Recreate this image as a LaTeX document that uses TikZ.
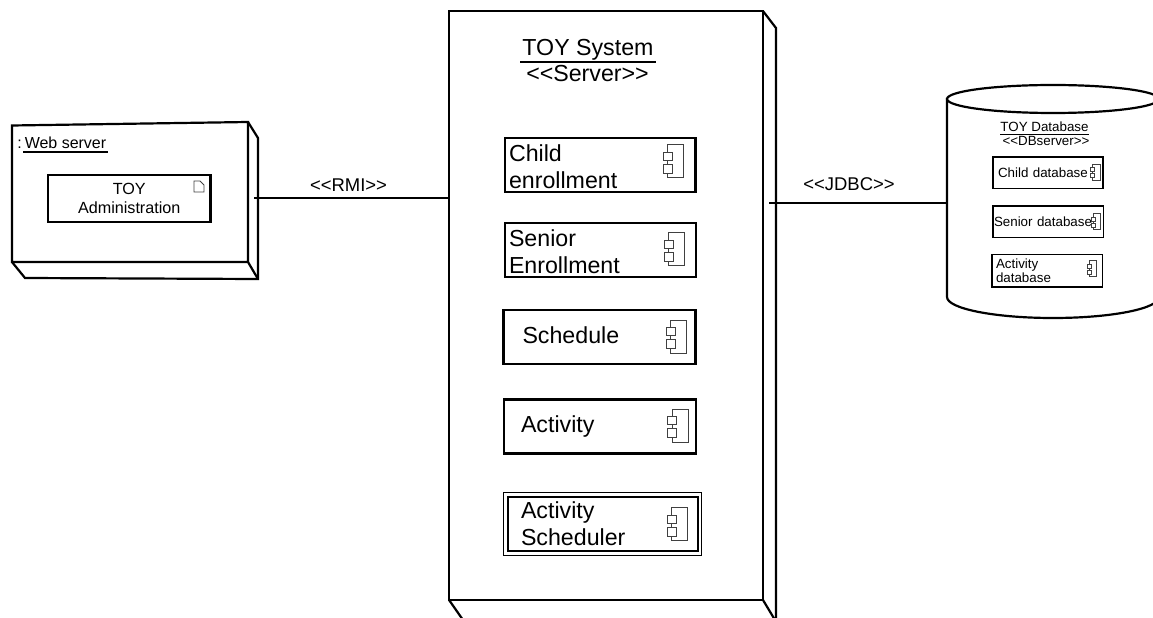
\documentclass[tikz,border=0pt]{standalone}
\usepackage{fontspec}
\setmainfont{Liberation Sans}
\usetikzlibrary{positioning,calc}

\begin{document}
\begin{tikzpicture}[
    x=0.02cm, y=-0.02cm,
    shell/.style={line width=1.25pt, line join=miter},
    box/.style={rectangle, draw, line width=1.25pt, inner ysep=0pt, outer sep=0pt, align=left},
    compbox/.style={box, inner xsep=0.08cm, minimum height=1.08cm, font=\fontsize{13.2}{15.3}\selectfont},
    dbbox/.style={box, line width=1pt, inner xsep=0.1cm, text width=2cm, minimum height=0.63cm, font=\fontsize{7.6}{8.2}\selectfont},
    title/.style={anchor=base, inner xsep=1pt, inner ysep=0.05cm, font=\fontsize{13.2}{15}\selectfont},
    tag/.style={anchor=base, inner sep=0pt, font=\fontsize{10.5}{12}\selectfont},
    link/.style={line width=1.25pt},
    compicon/.pic={
        \draw[line width=0.45pt, black!75] (-8,-16.5) rectangle (8,16.5);
        \draw[line width=0.45pt, black!75, fill=white] (-12.5,-9) rectangle (-3.5,-1);
        \draw[line width=0.45pt, black!75, fill=white] (-12.5,3) rectangle (-3.5,12);
    }
]
    \useasboundingbox (0,0) rectangle (1153,618);

    % Web server node
    \draw[shell] (12,125.5) -- (248,122) -- (248,262) -- (12,262) -- cycle;
    \draw[shell] (248,122) -- (258,138) -- (258,279) -- (25,278) -- (12,262);
    \draw[shell] (248,262) -- (258,279);
    \coordinate (webport) at (254,198);
    \node[title, inner xsep=0.02cm, font=\fontsize{9.1}{12}\selectfont] (webtitle) at (65.5,149) {Web server};
    \draw[line width=0.8pt] (webtitle.south west) -- (webtitle.south east);
    \node[tag, font=\fontsize{9.1}{12}\selectfont] (webcolon) at (19.5,149) {:};
    \node[box, anchor=north west, minimum width=3.25cm, minimum height=0.94cm, align=center, font=\fontsize{9.2}{10.8}\selectfont] (admin) at (48,175) {TOY\\Administration};
    \draw[line width=0.45pt, black!75] (194,181) -- (200,181) -- (204,185) -- (204,192) -- (194,192) -- cycle;

    % Server node
    \node[rectangle, draw, shell, inner sep=0pt, outer sep=0pt, anchor=north west, minimum width=6.28cm, minimum height=11.78cm] (system) at (449,11) {};
    \draw[shell] (system.north east) -- (776,28) -- (776,620);
    \draw[shell] (system.south east) -- (775,620);
    \draw[shell] (system.south west) -- (463,620);
    \coordinate (sysport) at (769,203);
    \node[title, inner ysep=0.02cm] (systitle) at (588,56) {TOY System};
    \draw[line width=1.25pt] (systitle.south west) -- (systitle.south east);
    \node[tag, font=\fontsize{13.2}{15}\selectfont] (sysstereo) at (587.5,81.7) {<{}<Server>{}>};

    % Components of the server
    \node[compbox, anchor=north west, text width=3.65cm, text height=12pt] (child) at (505,138) {Child\\enrollment};
    \node[compbox, anchor=north west, text width=3.66cm, text height=11.5pt] (senior) at (505,223) {Senior\\Enrollment};
    \node[compbox, anchor=north west, inner xsep=0.38cm, text width=3.08cm, text depth=2pt] (schedule) at (503.5,310) {Schedule};
    \node[compbox, anchor=north west, inner xsep=0.34cm, text width=3.16cm] (activity) at (504,399.5) {Activity};
    \node[compbox, anchor=north west, inner xsep=0.266cm, text width=3.274cm] (scheduler) at (507.7,496.7) {Activity\\Scheduler};
    \draw[line width=0.7pt] ($(scheduler.north west)+(-4,-4)$) rectangle ($(scheduler.south east)+(3.5,5)$);
    \pic at (675.5,161) {compicon};
    \pic at (676.5,249) {compicon};
    \pic at (678.5,336.5) {compicon};
    \pic at (680,425.5) {compicon};
    \pic at (679.5,524) {compicon};

    % Database node
    \draw[shell] (947,98) -- (947,297) arc[start angle=180, end angle=0, x radius=106, y radius=21] -- (1159,98);
    \draw[shell] (1053,99) ellipse[x radius=106, y radius=14];
    \coordinate (dbport) at (947,203);
    \node[title, inner xsep=0pt, font=\fontsize{7.6}{9}\selectfont] (dbtitle) at (1044.5,131.5) {TOY Database};
    \draw[line width=0.7pt] (dbtitle.south west) -- (dbtitle.south east);
    \node[tag, font=\fontsize{7.6}{9}\selectfont] (dbstereo) at (1046,146) {<{}<DBserver>{}>};

    % Components of the database
    \node[dbbox, anchor=north west] (childdb) at (993,157) {Child database};
    \node[dbbox, anchor=north west, inner xsep=0.02cm, text width=2.17cm] (seniordb) at (993,206) {Senior database};
    \node[dbbox, anchor=north west, inner xsep=0.08cm, text width=2.05cm, minimum height=0.65cm] (activitydb) at (992,254.5) {Activity\\database};
    \pic[scale=0.48] at (1096.5,172) {compicon};
    \pic[scale=0.48] at (1097,221.5) {compicon};
    \pic[scale=0.48] at (1093,268.5) {compicon};

    % Connectors
    \draw[link] (webport) -- (webport -| system.west);
    \draw[link] (sysport) -- (dbport);
    \node[tag] (rmi) at (348.5,192) {<{}<RMI>{}>};
    \node[tag] (jdbc) at (849,191) {<{}<JDBC>{}>};

\end{tikzpicture}
\end{document}
